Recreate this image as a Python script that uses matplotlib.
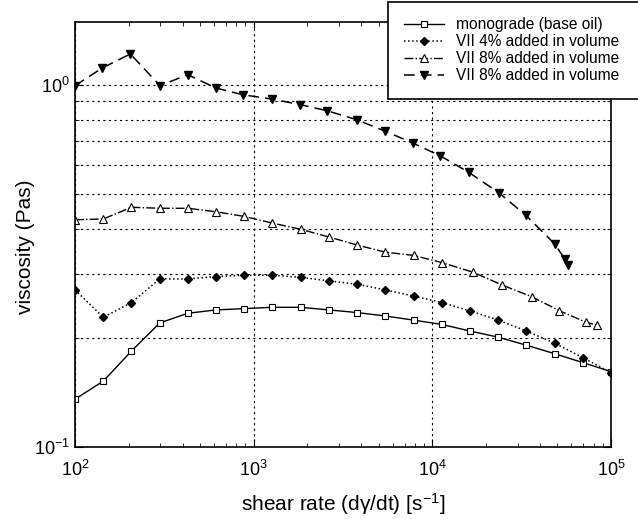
import matplotlib
matplotlib.use("Agg")
import matplotlib.pyplot as plt
from matplotlib.ticker import LogLocator, NullFormatter

plt.rcParams['font.family'] = ['Liberation Sans', 'DejaVu Sans']
plt.rcParams['mathtext.default'] = 'regular'

# shear rate values (1/s)
x_grid = [100, 144, 207, 298, 428, 616, 886, 1274, 1833, 2637,
          3793, 5456, 7848, 11288, 16238, 23357, 33598, 48329, 69519, 100000]
x_vii8a = [100, 144, 207, 298, 428, 616, 886, 1274, 1833, 2637,
           3793, 5456, 7848, 11288, 16810, 24600, 35950, 51290, 72360, 83700]
x_vii8b = [100, 142, 204, 299, 427, 617, 872, 1267, 1828, 2570,
           3793, 5456, 7800, 11100, 16000, 23500, 33400, 48300, 55200, 57620]

# viscosity (Pas)
mono = [0.1355, 0.152, 0.184, 0.220, 0.234, 0.239, 0.241, 0.243, 0.243, 0.239,
        0.235, 0.230, 0.224, 0.218, 0.209, 0.201, 0.191, 0.181, 0.171, 0.1615]
vii4 = [0.2715, 0.228, 0.2505, 0.291, 0.291, 0.2955, 0.298, 0.298, 0.294, 0.2875,
        0.2814, 0.2715, 0.261, 0.2505, 0.2375, 0.224, 0.209, 0.1935, 0.1765, 0.1604]
vii8a = [0.424, 0.426, 0.459, 0.456, 0.456, 0.446, 0.433, 0.415, 0.399, 0.380,
         0.361, 0.345, 0.338, 0.323, 0.304, 0.280, 0.260, 0.238, 0.221, 0.217]
vii8b = [0.994, 1.112, 1.216, 0.994, 1.066, 0.979, 0.938, 0.913, 0.881, 0.848,
         0.800, 0.744, 0.690, 0.636, 0.573, 0.504, 0.436, 0.364, 0.330, 0.317]

labels = ["monograde (base oil)", "VII 4% added in volume",
          "VII 8% added in volume", "VII 8% added in volume"]

fig = plt.figure(figsize=(6.38, 5.19), dpi=100)
ax = fig.add_axes([75/638, 1-447/519, 536/638, 425/519])

ax.plot(x_grid, mono, 'k-', marker='s', mfc='white', ms=5, mew=0.8, lw=1.0, label=labels[0])
ax.plot(x_grid, vii4, 'k:', marker='D', mfc='black', ms=4, lw=1.1, label=labels[1])
ax.plot(x_vii8a, vii8a, 'k-.', marker='^', mfc='white', ms=5.5, mew=0.8, lw=1.0, label=labels[2])
ax.plot(x_vii8b, vii8b, 'k--', marker='v', mfc='black', ms=5.5, lw=1.1, dashes=(7, 4), label=labels[3])

ax.set_xscale('log')
ax.set_yscale('log')
ax.set_xlim(100, 1e5)
ax.set_ylim(0.1, 1.49)

ax.yaxis.set_major_locator(LogLocator(base=10))
ax.yaxis.set_minor_locator(LogLocator(base=10, subs=range(2, 10)))
ax.yaxis.set_minor_formatter(NullFormatter())
ax.xaxis.set_minor_formatter(NullFormatter())

ax.tick_params(which='both', direction='in', top=True, right=True, labelsize=13)
ax.tick_params(which='major', length=6)
ax.tick_params(which='minor', length=3)
ax.tick_params(axis='x', pad=9)

ax.grid(True, axis='x', which='major', color='black', linestyle=(0, (2, 3)), lw=0.8)
ax.grid(True, axis='y', which='minor', color='black', linestyle=(0, (2, 3)), lw=0.8)
ax.grid(True, axis='y', which='major', color='black', linestyle=(0, (2, 3)), lw=0.8)

for s in ax.spines.values():
    s.set_linewidth(1.2)

ax.set_xlabel('shear rate (d\u03b3/dt) [s$^{-1}$]', fontsize=15, labelpad=8)
ax.set_ylabel('viscosity (Pas)', fontsize=15, labelpad=3)
ax.yaxis.set_label_coords(-0.074, 0.47)

leg = ax.legend(loc='upper left', bbox_to_anchor=(388/638, 1-7/519, 255/638, 0.01),
                bbox_transform=fig.transFigure, mode='expand', fontsize=11.2,
                fancybox=False, framealpha=1, edgecolor='black', handlelength=2.6,
                labelspacing=0.12, borderpad=1.0, borderaxespad=0)
leg.get_frame().set_linewidth(1.2)

fig.savefig('out.png', dpi=100)
